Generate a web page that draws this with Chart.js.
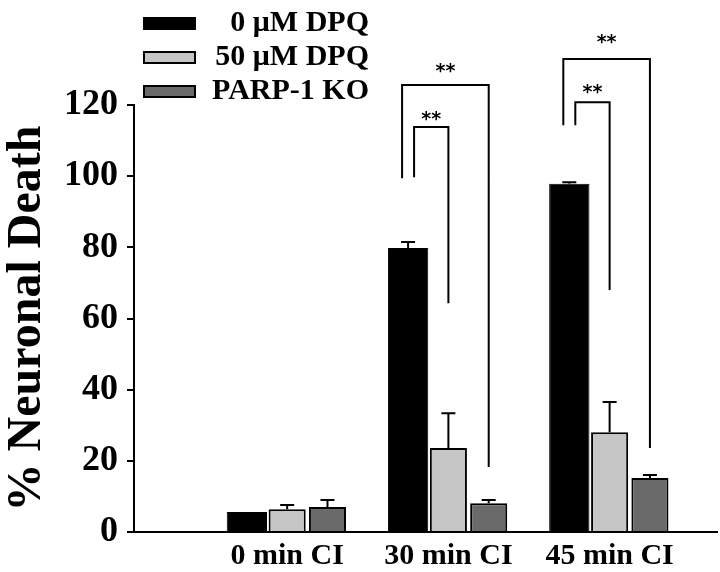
<!DOCTYPE html>
<html>
<head>
<meta charset="utf-8">
<script src="https://cdn.jsdelivr.net/npm/chart.js@4.4.1/dist/chart.umd.min.js"></script>
<style>
  html, body { margin: 0; padding: 0; background: #fff; }
  #wrap { width: 720px; height: 572px; position: relative; }
</style>
</head>
<body>
<div id="wrap"><canvas id="deathChart"></canvas></div>
<script>
// Data
const categories = ['0 min CI', '30 min CI', '45 min CI'];
const seriesLabels = ['0 \u03bcM DPQ', '50 \u03bcM DPQ', 'PARP-1 KO'];
const dpq0 = [5.6, 79.8, 97.9];
const dpq0Err = [0, 1.7, 0.4];
const dpq50 = [6.4, 23.6, 28.0];
const dpq50Err = [1.2, 9.8, 8.5];
const parpKo = [7.0, 8.1, 15.2];
const parpKoErr = [2.0, 0.9, 0.8];
const yTicks = [0, 20, 40, 60, 80, 100, 120];

// significance brackets: group, from/to dataset, leg ends, top, star height (y units)
const brackets = [
    { group: 1, from: 0, to: 2, shift: -6, leftEnd: 99.4, top: 125.6, rightEnd: 18.3, star: 130.9 },
    { group: 1, from: 0, to: 1, shift: 6, leftEnd: 99.7, top: 113.8, rightEnd: 64.3, star: 117.4 },
    { group: 2, from: 0, to: 2, shift: -6, leftEnd: 114.3, top: 132.9, rightEnd: 23.6, star: 139.0 },
    { group: 2, from: 0, to: 1, shift: 6, leftEnd: 114.3, top: 120.8, rightEnd: 68.0, star: 125.0 }
];

const errors = [dpq0Err, dpq50Err, parpKoErr];
const serif = '"Liberation Serif", "Times New Roman", serif';

function points(values) {
    return values.map((v, i) => ({ x: i + 1, y: v }));
}

const figurePlugin = {
    id: 'figureExtras',
    afterDatasetsDraw(chart) {
        const ctx = chart.ctx;
        const yScale = chart.scales.y;
        ctx.save();
        ctx.strokeStyle = '#000';
        ctx.lineWidth = 2;

        // error bars (upper only, with cap)
        chart.data.datasets.forEach((ds, i) => {
            const meta = chart.getDatasetMeta(i);
            meta.data.forEach((bar, j) => {
                const err = errors[i][j];
                if (!err) return;
                const yTop = yScale.getPixelForValue(ds.data[j].y + err);
                ctx.beginPath();
                ctx.moveTo(bar.x, bar.y);
                ctx.lineTo(bar.x, yTop);
                ctx.moveTo(bar.x - 7, yTop);
                ctx.lineTo(bar.x + 7, yTop);
                ctx.stroke();
            });
        });

        // brackets with stars
        ctx.font = 'bold 19px "DejaVu Sans", sans-serif';
        ctx.textAlign = 'center';
        ctx.textBaseline = 'alphabetic';
        ctx.fillStyle = '#000';
        brackets.forEach(b => {
            const xl = chart.getDatasetMeta(b.from).data[b.group].x + b.shift;
            const xr = chart.getDatasetMeta(b.to).data[b.group].x;
            const yt = yScale.getPixelForValue(b.top);
            ctx.beginPath();
            ctx.moveTo(xl, yScale.getPixelForValue(b.leftEnd));
            ctx.lineTo(xl, yt);
            ctx.lineTo(xr, yt);
            ctx.lineTo(xr, yScale.getPixelForValue(b.rightEnd));
            ctx.stroke();
            ctx.fillText('**', (xl + xr) / 2, yScale.getPixelForValue(b.star) + 11);
        });

        // legend in the top-left corner
        ctx.font = 'bold 30px ' + serif;
        ctx.textAlign = 'right';
        ctx.textBaseline = 'middle';
        chart.data.datasets.forEach((ds, i) => {
            const cy = 23.5 + i * 34;
            ctx.fillStyle = ds.backgroundColor;
            ctx.fillRect(144, cy - 5.5, 51, 11);
            ctx.strokeRect(144, cy - 5.5, 51, 11);
            ctx.fillStyle = '#000';
            ctx.fillText(ds.label, 369, cy);
        });
        ctx.restore();
    }
};

const chartCtx = document.getElementById('deathChart').getContext('2d');
const deathChart = new Chart(chartCtx, {
    type: 'bar',
    data: {
        datasets: [
            {
                label: seriesLabels[0],
                data: points(dpq0),
                backgroundColor: '#000000',
                borderColor: '#000000',
                borderWidth: 1,
                barPercentage: 1.0,
                categoryPercentage: 0.75
            },
            {
                label: seriesLabels[1],
                data: points(dpq50),
                backgroundColor: '#c6c6c6',
                borderColor: '#000000',
                borderWidth: 2,
                barPercentage: 0.92,
                categoryPercentage: 0.75
            },
            {
                label: seriesLabels[2],
                data: points(parpKo),
                backgroundColor: '#6a6a6a',
                borderColor: '#000000',
                borderWidth: 2,
                barPercentage: 0.92,
                categoryPercentage: 0.75
            }
        ]
    },
    options: {
        responsive: true,
        maintainAspectRatio: false,
        animation: false,
        layout: {
            padding: { top: 105, right: 3, left: 0, bottom: 0 }
        },
        scales: {
            x: {
                type: 'linear',
                offset: false,
                min: 0.05,
                max: 3.666,
                afterBuildTicks: (scale) => {
                    scale.ticks = categories.map((c, i) => ({ value: i + 1 }));
                },
                afterFit: (scale) => { scale.height = 40; },
                grid: { display: false, drawTicks: false },
                border: { display: true, color: '#000', width: 2 },
                ticks: {
                    autoSkip: false,
                    maxRotation: 0,
                    padding: 6,
                    color: '#000',
                    font: { family: serif, size: 30, weight: 'bold' },
                    callback: (value, index) => categories[index]
                }
            },
            y: {
                min: 0,
                max: 120,
                afterBuildTicks: (scale) => {
                    scale.ticks = yTicks.map(v => ({ value: v }));
                },
                afterFit: (scale) => { scale.width = 134; },
                grid: {
                    drawOnChartArea: false,
                    drawTicks: true,
                    tickLength: 7,
                    color: '#000',
                    lineWidth: 2
                },
                border: { display: true, color: '#000', width: 2 },
                ticks: {
                    padding: 9,
                    color: '#000',
                    font: { family: serif, size: 36, weight: 'bold' }
                },
                title: {
                    display: true,
                    text: '% Neuronal Death',
                    color: '#000',
                    padding: { top: 4, bottom: 0 },
                    font: { family: serif, size: 48, weight: 'bold', lineHeight: 1 }
                }
            }
        },
        plugins: {
            legend: { display: false },
            tooltip: { enabled: false }
        }
    },
    plugins: [figurePlugin]
});
</script>
</body>
</html>
